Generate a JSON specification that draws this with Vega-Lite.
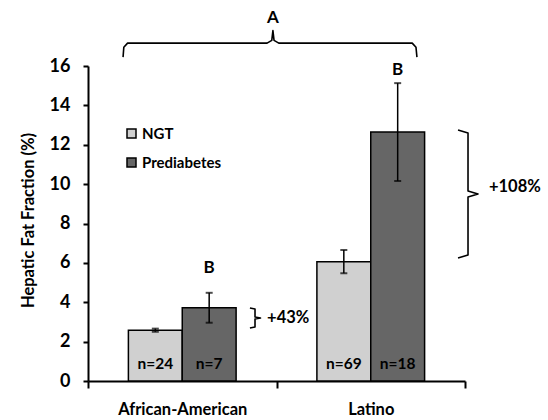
{
  "$schema": "https://vega.github.io/schema/vega-lite/v6.json",
  "width": 377,
  "height": 315,
  "autosize": {"type": "none"},
  "padding": {"left": 88, "top": 66, "right": 83, "bottom": 39},
  "background": "white",
  "config": {
    "view": {"stroke": null},
    "font": "Lato",
    "axis": {
      "grid": false,
      "domainColor": "black",
      "domainWidth": 2,
      "tickColor": "black",
      "tickWidth": 2,
      "labelColor": "black",
      "labelFont": "Lato",
      "labelFontWeight": "bold",
      "titleColor": "black",
      "titleFont": "Lato",
      "titleFontWeight": "bold"
    },
    "axisY": {
      "tickSize": 5,
      "labelPadding": 13,
      "labelFontSize": 18,
      "titleFontSize": 16.5,
      "titleX": -60,
      "titleY": 154,
      "titleBaseline": "middle",
      "labelOverlap": false
    },
    "axisX": {
      "labelFontSize": 16.5,
      "labelPadding": 13,
      "tickSize": 7
    }
  },
  "datasets": {
    "bars": [
      {"group": "African-American", "cond": "NGT", "mean": 2.58, "lo": 2.5, "hi": 2.66, "n": "n=24"},
      {"group": "African-American", "cond": "Prediabetes", "mean": 3.72, "lo": 2.96, "hi": 4.48, "n": "n=7"},
      {"group": "Latino", "cond": "NGT", "mean": 6.06, "lo": 5.47, "hi": 6.65, "n": "n=69"},
      {"group": "Latino", "cond": "Prediabetes", "mean": 12.65, "lo": 10.16, "hi": 15.13, "n": "n=18"}
    ],
    "sig": [
      {"group": "African-American", "cond": "Prediabetes", "label": "B", "y": 5.75},
      {"group": "Latino", "cond": "Prediabetes", "label": "B", "y": 15.8}
    ],
    "brackets": [
      {"id": "A", "i": 0, "x": 0.186, "y": 16.45},
      {"id": "A", "i": 1, "x": 0.19, "y": 16.95},
      {"id": "A", "i": 2, "x": 0.21, "y": 17.16},
      {"id": "A", "i": 3, "x": 0.95, "y": 17.16},
      {"id": "A", "i": 4, "x": 0.975, "y": 17.3},
      {"id": "A", "i": 5, "x": 0.981, "y": 17.8},
      {"id": "A", "i": 6, "x": 0.987, "y": 17.3},
      {"id": "A", "i": 7, "x": 1.012, "y": 17.16},
      {"id": "A", "i": 8, "x": 1.72, "y": 17.16},
      {"id": "A", "i": 9, "x": 1.74, "y": 16.95},
      {"id": "A", "i": 10, "x": 1.745, "y": 16.45},
      {"id": "p43", "i": 0, "x": 0.859, "y": 3.71},
      {"id": "p43", "i": 1, "x": 0.886, "y": 3.66},
      {"id": "p43", "i": 2, "x": 0.886, "y": 3.25},
      {"id": "p43", "i": 3, "x": 0.915, "y": 3.2},
      {"id": "p43", "i": 4, "x": 0.886, "y": 3.15},
      {"id": "p43", "i": 5, "x": 0.886, "y": 2.74},
      {"id": "p43", "i": 6, "x": 0.859, "y": 2.69},
      {"id": "p108", "i": 0, "x": 1.963, "y": 12.75},
      {"id": "p108", "i": 1, "x": 2.016, "y": 12.6},
      {"id": "p108", "i": 2, "x": 2.016, "y": 9.65},
      {"id": "p108", "i": 3, "x": 2.069, "y": 9.5},
      {"id": "p108", "i": 4, "x": 2.016, "y": 9.35},
      {"id": "p108", "i": 5, "x": 2.016, "y": 6.4},
      {"id": "p108", "i": 6, "x": 1.963, "y": 6.25}
    ],
    "topnote": [
      {"text": "A", "x": 0.981, "y": 18.45}
    ],
    "notes": [
      {"text": "+43%", "x": 0.95, "y": 3.2},
      {"text": "+108%", "x": 2.127, "y": 9.85}
    ]
  },
  "layer": [
    {
      "encoding": {
        "x": {
          "field": "group",
          "type": "nominal",
          "sort": ["African-American", "Latino"],
          "scale": {"paddingInner": 0, "paddingOuter": 0},
          "axis": {"title": null, "labelAngle": 0, "tickBand": "extent"}
        },
        "xOffset": {
          "field": "cond",
          "type": "nominal",
          "sort": ["NGT", "Prediabetes"],
          "scale": {"paddingInner": 0, "paddingOuter": 0.75}
        }
      },
      "layer": [
        {
          "data": {"name": "bars"},
          "mark": {"type": "bar", "stroke": "black", "strokeWidth": 1.5, "clip": false},
          "encoding": {
            "y": {
              "field": "mean",
              "type": "quantitative",
              "scale": {"domain": [0, 16], "nice": false},
              "axis": {"title": "Hepatic Fat Fraction (%)", "values": [0, 2, 4, 6, 8, 10, 12, 14, 16]}
            },
            "fill": {
              "field": "cond",
              "type": "nominal",
              "sort": ["NGT", "Prediabetes"],
              "scale": {"domain": ["NGT", "Prediabetes"], "range": ["#d0d0d0", "#666666"]},
              "legend": {
                "title": null,
                "orient": "none",
                "legendX": 36,
                "legendY": 60,
                "padding": 0,
                "symbolType": "square",
                "symbolSize": 81,
                "symbolStrokeColor": "black",
                "symbolStrokeWidth": 1.5,
                "symbolOpacity": 1,
                "labelFont": "Lato",
                "labelFontWeight": "bold",
                "labelFontSize": 15,
                "labelColor": "black",
                "labelOffset": 3,
                "rowPadding": 13
              }
            }
          }
        },
        {
          "data": {"name": "bars"},
          "mark": {"type": "rule", "color": "black", "strokeWidth": 1.5, "clip": false},
          "encoding": {
            "y": {"field": "lo", "type": "quantitative", "scale": {"domain": [0, 16], "nice": false}, "axis": null},
            "y2": {"field": "hi"}
          }
        },
        {
          "data": {"name": "bars"},
          "mark": {"type": "tick", "color": "black", "size": 7, "thickness": 2, "clip": false},
          "encoding": {
            "y": {"field": "lo", "type": "quantitative", "scale": {"domain": [0, 16], "nice": false}, "axis": null}
          }
        },
        {
          "data": {"name": "bars"},
          "mark": {"type": "tick", "color": "black", "size": 7, "thickness": 2, "clip": false},
          "encoding": {
            "y": {"field": "hi", "type": "quantitative", "scale": {"domain": [0, 16], "nice": false}, "axis": null}
          }
        },
        {
          "data": {"name": "bars"},
          "mark": {"type": "text", "font": "Lato", "fontWeight": "bold", "fontSize": 15.5, "color": "black", "baseline": "middle", "clip": false},
          "encoding": {
            "y": {"datum": 0.86, "type": "quantitative", "scale": {"domain": [0, 16], "nice": false}, "axis": null},
            "text": {"field": "n"}
          }
        },
        {
          "data": {"name": "sig"},
          "mark": {"type": "text", "font": "Lato", "fontWeight": "bold", "fontSize": 17, "color": "black", "baseline": "middle", "clip": false},
          "encoding": {
            "y": {"field": "y", "type": "quantitative", "scale": {"domain": [0, 16], "nice": false}, "axis": null},
            "text": {"field": "label"}
          }
        }
      ],
      "resolve": {"axis": {"y": "independent"}}
    },
    {
      "encoding": {
        "x": {"field": "x", "type": "quantitative", "scale": {"domain": [0, 2], "nice": false, "zero": false}, "axis": null}
      },
      "layer": [
        {
          "data": {"name": "brackets"},
          "mark": {"type": "line", "color": "black", "strokeWidth": 1.6, "clip": false, "strokeJoin": "round"},
          "encoding": {
            "y": {"field": "y", "type": "quantitative", "scale": {"domain": [0, 16], "nice": false}, "axis": null},
            "detail": {"field": "id"},
            "order": {"field": "i"}
          }
        },
        {
          "data": {"name": "topnote"},
          "mark": {"type": "text", "font": "Lato", "fontWeight": "bold", "fontSize": 17, "color": "black", "baseline": "middle", "align": "center", "clip": false},
          "encoding": {
            "y": {"field": "y", "type": "quantitative", "scale": {"domain": [0, 16], "nice": false}, "axis": null},
            "text": {"field": "text"}
          }
        },
        {
          "data": {"name": "notes"},
          "mark": {"type": "text", "font": "Lato", "fontWeight": "bold", "fontSize": 16.5, "color": "black", "baseline": "middle", "align": "left", "clip": false},
          "encoding": {
            "y": {"field": "y", "type": "quantitative", "scale": {"domain": [0, 16], "nice": false}, "axis": null},
            "text": {"field": "text"}
          }
        }
      ]
    }
  ],
  "resolve": {"scale": {"x": "independent"}, "axis": {"y": "independent"}}
}
